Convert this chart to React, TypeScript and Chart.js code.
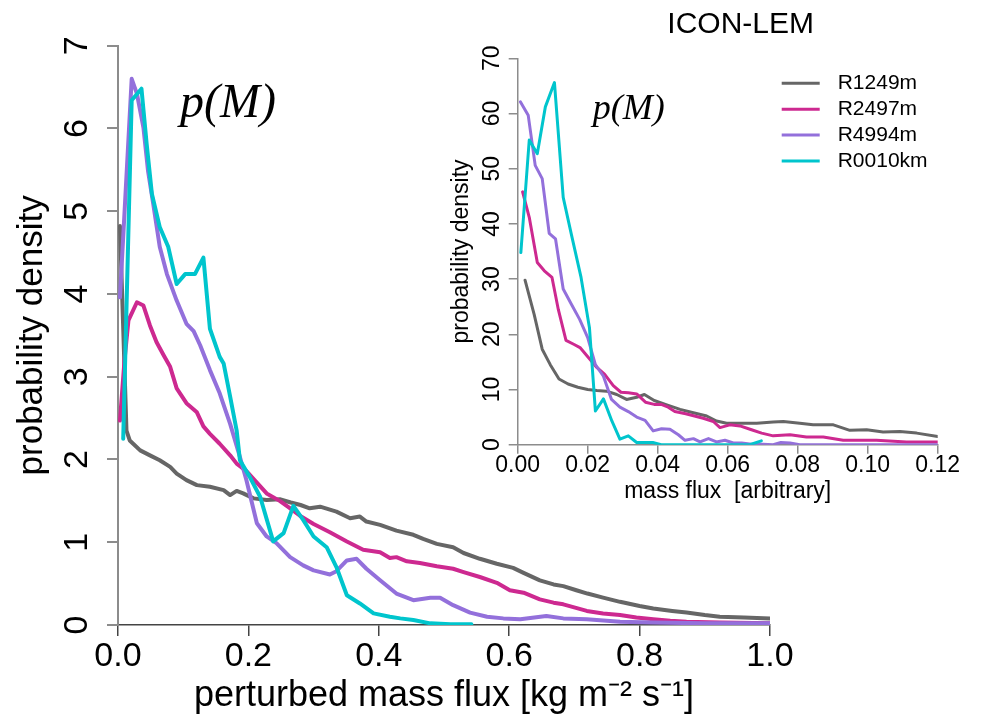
import React, { useEffect, useRef } from "react";
import { Chart, registerables } from "chart.js";

Chart.register(...registerables);

// ---------- shared ----------
const seriesNames = ["R1249m", "R2497m", "R4994m", "R0010km"];
const seriesColors = ["#666666", "#CD2990", "#9370DB", "#00C5CD"];

const mainXTitle = "perturbed mass flux [kg m\u207B\u00B2 s\u207B\u00B9]";
const mainYTitle = "probability density";
const insetXTitle = "mass flux  [arbitrary]";
const insetYTitle = "probability density";
const insetTitle = "ICON-LEM";
const annotationText = "p(M)";

const mainXTicks = [0, 0.2, 0.4, 0.6, 0.8, 1.0];
const mainYTicks = [0, 1, 2, 3, 4, 5, 6, 7];
const insetXTicks = [0, 0.02, 0.04, 0.06, 0.08, 0.1, 0.12];
const insetYTicks = [0, 10, 20, 30, 40, 50, 60, 70];

// ---------- main panel data ----------
const mainR1249mX = [0.003, 0.013, 0.018, 0.034, 0.049, 0.064, 0.08, 0.09, 0.105, 0.121, 0.141, 0.162, 0.172, 0.182, 0.192, 0.208, 0.228, 0.248, 0.265, 0.28, 0.294, 0.31, 0.335, 0.356, 0.371, 0.381, 0.402, 0.427, 0.453, 0.468, 0.489, 0.514, 0.53, 0.555, 0.581, 0.606, 0.622, 0.647, 0.668, 0.683, 0.703, 0.72, 0.744, 0.77, 0.8, 0.821, 0.85, 0.872, 0.9, 0.923, 0.96, 1.0];
const mainR1249mY = [4.82, 2.35, 2.23, 2.11, 2.05, 1.99, 1.91, 1.83, 1.75, 1.69, 1.67, 1.63, 1.57, 1.62, 1.59, 1.53, 1.51, 1.52, 1.48, 1.45, 1.41, 1.43, 1.37, 1.29, 1.31, 1.25, 1.21, 1.14, 1.09, 1.04, 0.98, 0.94, 0.87, 0.8, 0.74, 0.69, 0.63, 0.54, 0.49, 0.47, 0.42, 0.38, 0.33, 0.28, 0.23, 0.2, 0.17, 0.15, 0.12, 0.1, 0.09, 0.08];

const mainR2497mX = [0.003, 0.01, 0.016, 0.029, 0.039, 0.049, 0.059, 0.07, 0.08, 0.09, 0.105, 0.121, 0.131, 0.141, 0.156, 0.172, 0.182, 0.197, 0.213, 0.228, 0.248, 0.262, 0.279, 0.3, 0.325, 0.351, 0.376, 0.402, 0.417, 0.427, 0.443, 0.463, 0.489, 0.514, 0.53, 0.555, 0.581, 0.601, 0.622, 0.647, 0.668, 0.683, 0.719, 0.744, 0.77, 0.795, 0.821, 0.847, 0.872, 0.923, 1.0];
const mainR2497mY = [2.47, 3.2, 3.68, 3.9, 3.86, 3.62, 3.42, 3.26, 3.12, 2.86, 2.68, 2.57, 2.4, 2.31, 2.19, 2.05, 1.95, 1.86, 1.72, 1.59, 1.5, 1.42, 1.32, 1.22, 1.12, 1.01, 0.91, 0.88, 0.81, 0.82, 0.77, 0.75, 0.71, 0.68, 0.64, 0.58, 0.51, 0.42, 0.39, 0.31, 0.27, 0.25, 0.17, 0.14, 0.12, 0.09, 0.07, 0.05, 0.04, 0.03, 0.02];

const mainR4994mX = [0.003, 0.021, 0.029, 0.039, 0.046, 0.054, 0.064, 0.075, 0.09, 0.105, 0.116, 0.126, 0.141, 0.156, 0.172, 0.187, 0.197, 0.213, 0.228, 0.243, 0.264, 0.284, 0.3, 0.325, 0.335, 0.351, 0.366, 0.381, 0.402, 0.427, 0.453, 0.479, 0.494, 0.514, 0.54, 0.566, 0.591, 0.617, 0.657, 0.683, 0.719, 0.77, 0.82, 0.9, 1.0];
const mainR4994mY = [3.96, 6.6, 6.42, 6.01, 5.49, 5.09, 4.57, 4.24, 3.92, 3.64, 3.55, 3.38, 3.08, 2.8, 2.43, 2.03, 1.75, 1.23, 1.07, 0.99, 0.82, 0.72, 0.66, 0.61, 0.65, 0.78, 0.8, 0.68, 0.54, 0.38, 0.3, 0.33, 0.33, 0.24, 0.15, 0.1, 0.08, 0.07, 0.11, 0.08, 0.07, 0.04, 0.03, 0.02, 0.02];

const mainR0010kmX = [0.008, 0.021, 0.036, 0.044, 0.052, 0.064, 0.077, 0.09, 0.103, 0.118, 0.131, 0.141, 0.156, 0.162, 0.172, 0.182, 0.187, 0.202, 0.218, 0.238, 0.254, 0.269, 0.284, 0.3, 0.32, 0.335, 0.351, 0.371, 0.392, 0.417, 0.433, 0.453, 0.479, 0.51, 0.542];
const mainR0010kmY = [2.25, 6.34, 6.48, 5.81, 5.21, 4.81, 4.57, 4.12, 4.24, 4.24, 4.44, 3.58, 3.24, 3.16, 2.76, 2.35, 1.99, 1.79, 1.55, 1.01, 1.11, 1.44, 1.27, 1.07, 0.94, 0.7, 0.36, 0.26, 0.14, 0.1, 0.08, 0.06, 0.02, 0.01, 0.01];

// ---------- inset panel data ----------
const insetR1249mX = [0.0021, 0.0047, 0.007, 0.0093, 0.0118, 0.0144, 0.0172, 0.02, 0.0226, 0.0254, 0.0283, 0.0311, 0.034, 0.0362, 0.039, 0.0426, 0.0464, 0.0502, 0.054, 0.0568, 0.0597, 0.0635, 0.0683, 0.073, 0.0759, 0.0806, 0.0844, 0.0902, 0.0949, 0.0997, 0.1044, 0.1092, 0.114, 0.12];
const insetR1249mY = [29.8, 23.6, 17.3, 14.5, 11.9, 11.0, 10.4, 10.0, 9.8, 9.7, 9.1, 8.2, 8.6, 9.1, 8.0, 7.2, 6.4, 5.8, 5.2, 4.3, 3.9, 3.9, 3.9, 4.1, 4.2, 3.9, 3.6, 3.6, 2.6, 2.7, 2.3, 2.4, 2.1, 1.5];

const insetR2497mX = [0.0014, 0.0033, 0.0056, 0.0076, 0.0098, 0.0116, 0.0138, 0.016, 0.0178, 0.0202, 0.0226, 0.0248, 0.0273, 0.0295, 0.0316, 0.034, 0.0365, 0.039, 0.041, 0.043, 0.0449, 0.048, 0.0505, 0.053, 0.0559, 0.0578, 0.0606, 0.0635, 0.0668, 0.0697, 0.073, 0.0778, 0.0825, 0.0873, 0.093, 0.0978, 0.1025, 0.1111, 0.12];
const insetR2497mY = [45.8, 41.2, 33.0, 31.5, 30.3, 24.5, 18.9, 18.2, 17.6, 15.8, 14.0, 12.8, 10.7, 9.5, 9.4, 9.2, 7.7, 7.3, 7.3, 6.8, 6.0, 5.6, 5.2, 4.8, 4.2, 3.1, 3.6, 3.4, 2.7, 2.1, 1.6, 1.8, 1.4, 1.4, 0.8, 0.8, 0.8, 0.5, 0.5];

const insetR4994mX = [0.0008, 0.003, 0.005, 0.007, 0.009, 0.0108, 0.013, 0.0153, 0.0177, 0.02, 0.0222, 0.0245, 0.0268, 0.0292, 0.0316, 0.034, 0.0364, 0.0387, 0.0411, 0.0435, 0.0459, 0.0478, 0.0502, 0.0521, 0.0545, 0.0568, 0.0592, 0.0616, 0.064, 0.0668, 0.07, 0.073, 0.0752, 0.0778, 0.0806, 0.09, 0.1, 0.11, 0.12];
const insetR4994mY = [62.1, 59.7, 50.6, 48.2, 38.3, 37.3, 28.2, 25.5, 22.7, 19.4, 14.5, 12.4, 8.2, 6.8, 6.0, 5.0, 4.4, 2.5, 2.9, 2.8, 1.8, 0.8, 1.1, 0.5, 1.1, 0.5, 0.8, 0.3, 0.3, 0.1, 0.1, 0.0, 0.4, 0.3, 0.0, 0.0, 0.0, 0.0, 0.0];

const insetR0010kmX = [0.0009, 0.0033, 0.0056, 0.0079, 0.0105, 0.013, 0.0153, 0.0181, 0.0205, 0.0222, 0.0245, 0.0269, 0.0292, 0.0316, 0.034, 0.0386, 0.041, 0.05, 0.06, 0.0663, 0.0696];
const insetR0010kmY = [34.8, 55.2, 52.7, 61.2, 65.6, 44.8, 38.2, 30.3, 21.2, 6.1, 8.3, 4.3, 1.0, 1.6, 0.4, 0.4, 0.0, 0.0, 0.0, 0.0, 0.7];

const mainSeriesX = [mainR1249mX, mainR2497mX, mainR4994mX, mainR0010kmX];
const mainSeriesY = [mainR1249mY, mainR2497mY, mainR4994mY, mainR0010kmY];
const insetSeriesX = [insetR1249mX, insetR2497mX, insetR4994mX, insetR0010kmX];
const insetSeriesY = [insetR1249mY, insetR2497mY, insetR4994mY, insetR0010kmY];

const SANS = "'Liberation Sans', Arial, Helvetica, sans-serif";
const SERIF = "'Liberation Serif', 'Times New Roman', serif";

function buildDatasets(xs: number[][], ys: number[][], width: number) {
  return seriesNames.map((name, i) => ({
    label: name,
    data: xs[i].map((x, j) => ({ x, y: ys[i][j] })),
    borderColor: seriesColors[i],
    backgroundColor: seriesColors[i],
    borderWidth: width,
    pointRadius: 0,
    tension: 0,
    fill: false,
    borderJoinStyle: "round" as const,
    borderCapStyle: "round" as const,
    order: seriesNames.length - 1 - i,
  }));
}

const mainNotes = {
  id: "mainNotes",
  afterDraw(chart: any) {
    const { ctx, chartArea } = chart;
    ctx.save();
    ctx.font = `italic 48px ${SERIF}`;
    ctx.fillStyle = "#000";
    ctx.textAlign = "left";
    ctx.textBaseline = "alphabetic";
    ctx.fillText(annotationText, chartArea.left + 62, chartArea.top + 71);
    ctx.restore();
  },
};

const insetNotes = {
  id: "insetNotes",
  afterDraw(chart: any) {
    const { ctx, chartArea } = chart;
    ctx.save();
    ctx.fillStyle = "#000";
    ctx.textBaseline = "alphabetic";
    ctx.textAlign = "center";
    ctx.font = `30px ${SANS}`;
    ctx.fillText(insetTitle, chartArea.left + 223, 33);
    ctx.textAlign = "left";
    ctx.font = `italic 36px ${SERIF}`;
    ctx.fillText(annotationText, chartArea.left + 75, chartArea.top + 61);
    // legend
    const lx0 = chartArea.left + 264;
    const lx1 = lx0 + 38;
    const tx = lx0 + 56;
    ctx.font = `21px ${SANS}`;
    ctx.textBaseline = "middle";
    chart.data.datasets.forEach((ds: any, i: number) => {
      const y = 83.3 + i * 25.9;
      ctx.strokeStyle = ds.borderColor;
      ctx.lineWidth = 3;
      ctx.lineCap = "butt";
      ctx.beginPath();
      ctx.moveTo(lx0, y);
      ctx.lineTo(lx1, y);
      ctx.stroke();
      ctx.fillStyle = "#000";
      ctx.fillText(ds.label, tx, y);
    });
    ctx.restore();
  },
};

export default function App() {
  const mainRef = useRef<HTMLCanvasElement | null>(null);
  const insetRef = useRef<HTMLCanvasElement | null>(null);

  useEffect(() => {
    if (!mainRef.current || !insetRef.current) return;
    const axisGray = "#8c8c8c";
    const main = new Chart(mainRef.current, {
      type: "line",
      data: { datasets: buildDatasets(mainSeriesX, mainSeriesY, 4) as any },
      options: {
        animation: false,
        responsive: false,
        devicePixelRatio: 1,
        layout: { padding: { left: 0, top: 45.7, right: 211, bottom: 0 } },
        plugins: { legend: { display: false }, tooltip: { enabled: false }, title: { display: false } },
        scales: {
          x: {
            type: "linear",
            min: 0,
            max: 1,
            afterBuildTicks: (s: any) => { s.ticks = mainXTicks.map((v) => ({ value: v })); },
            afterFit: (s: any) => { s.height = 93; },
            ticks: {
              autoSkip: false,
              maxRotation: 0,
              padding: 0,
              color: "#000",
              font: { family: SANS, size: 34 },
              callback: (v: any) => Number(v).toFixed(1),
            },
            grid: { drawOnChartArea: false, tickLength: 11, color: "#444", lineWidth: 1.5 },
            border: { color: "#444", width: 1.5 },
            title: { display: true, text: mainXTitle, color: "#000", font: { family: SANS, size: 36 }, padding: { top: 0, bottom: 0 } },
          },
          y: {
            type: "linear",
            min: 0,
            max: 7,
            afterBuildTicks: (s: any) => { s.ticks = mainYTicks.map((v) => ({ value: v })); },
            afterFit: (s: any) => { s.width = 118; },
            ticks: {
              autoSkip: false,
              minRotation: 90,
              maxRotation: 90,
              crossAlign: "center",
              padding: 20,
              color: "#000",
              font: { family: SANS, size: 34 },
              callback: (v: any) => String(v),
            },
            grid: { drawOnChartArea: false, tickLength: 11, color: axisGray, lineWidth: 2 },
            border: { color: axisGray, width: 2 },
            title: { display: true, text: mainYTitle, color: "#000", font: { family: SANS, size: 35 }, padding: { top: 11, bottom: 0 } },
          },
        },
      } as any,
      plugins: [mainNotes],
    });

    const inset = new Chart(insetRef.current, {
      type: "line",
      data: { datasets: buildDatasets(insetSeriesX, insetSeriesY, 3) as any },
      options: {
        animation: false,
        responsive: false,
        devicePixelRatio: 1,
        layout: { padding: { left: 0, top: 58.3, right: 42.3, bottom: 0 } },
        plugins: { legend: { display: false }, tooltip: { enabled: false }, title: { display: false } },
        scales: {
          x: {
            type: "linear",
            min: 0,
            max: 0.12,
            afterBuildTicks: (s: any) => { s.ticks = insetXTicks.map((v) => ({ value: v })); },
            afterFit: (s: any) => { s.height = 70.3; },
            ticks: {
              autoSkip: false,
              maxRotation: 0,
              padding: 0,
              color: "#000",
              font: { family: SANS, size: 23, lineHeight: 1 },
              callback: (v: any) => Number(v).toFixed(2),
            },
            grid: { drawOnChartArea: false, tickLength: 9, color: axisGray, lineWidth: 1.5 },
            border: { color: axisGray, width: 1.5 },
            title: { display: true, text: insetXTitle, color: "#000", font: { family: SANS, size: 23 }, padding: { top: 0, bottom: 10 } },
          },
          y: {
            type: "linear",
            min: 0,
            max: 70,
            afterBuildTicks: (s: any) => { s.ticks = insetYTicks.map((v) => ({ value: v })); },
            afterFit: (s: any) => { s.width = 77.7; },
            ticks: {
              autoSkip: false,
              minRotation: 90,
              maxRotation: 90,
              crossAlign: "center",
              padding: 3.5,
              color: "#000",
              font: { family: SANS, size: 23 },
              callback: (v: any) => String(v),
            },
            grid: { drawOnChartArea: false, tickLength: 9, color: axisGray, lineWidth: 1.5 },
            border: { color: axisGray, width: 1.5 },
            title: { display: true, text: insetYTitle, color: "#000", font: { family: SANS, size: 23 }, padding: { top: 8, bottom: 0 } },
          },
        },
      } as any,
      plugins: [insetNotes],
    });

    return () => {
      main.destroy();
      inset.destroy();
    };
  }, []);

  return (
    <div style={{ position: "fixed", left: 0, top: 0, width: 981, height: 718, background: "#fff", overflow: "hidden" }}>
      <canvas ref={mainRef} width={981} height={718} style={{ position: "absolute", left: 0, top: 0, width: 981, height: 718 }} />
      <canvas ref={insetRef} width={540} height={515} style={{ position: "absolute", left: 440, top: 0, width: 540, height: 515 }} />
    </div>
  );
}
